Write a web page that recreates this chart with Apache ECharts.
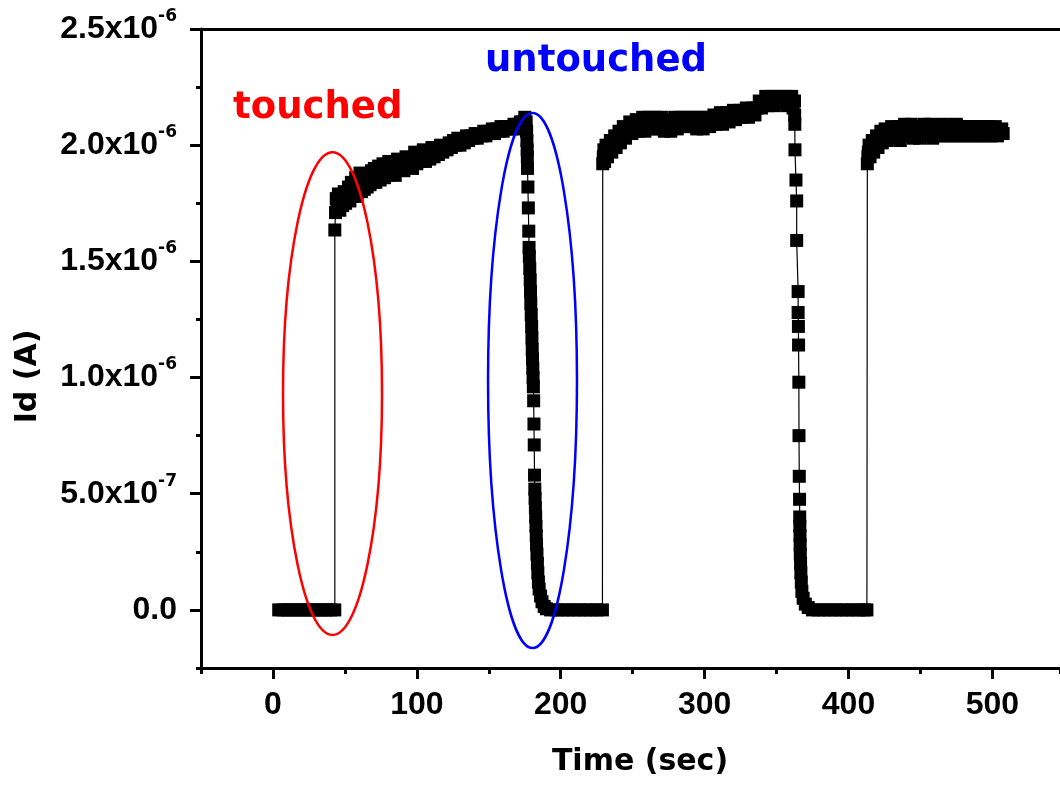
<!DOCTYPE html>
<html>
<head>
<meta charset="utf-8">
<title>Id vs Time</title>
<script src="https://cdn.jsdelivr.net/npm/echarts@6.0.0/dist/echarts.min.js"></script>
<style>
  html, body { margin: 0; padding: 0; background: #fff; overflow: hidden; }
  #main { width: 1060px; height: 785px; }
</style>
</head>
<body>
<div id="main"></div>
<script>
// current values are in units of 1e-6 A, time in sec
const baseline1 = [
  [4, 0], [7, 0], [10, 0], [13, 0], [16, 0], [19, 0], [22, 0], [25, 0],
  [28, 0], [31, 0], [34, 0], [37, 0], [40, 0], [43, 0]
]
const touchedRise = [
  [43, 1.635], [43.5, 1.71], [44, 1.77], [44.5, 1.73], [45, 1.76], [45.5, 1.79],
  [46.5, 1.72], [47.5, 1.77], [48.5, 1.74], [49.5, 1.80], [50.5, 1.75], [51.5, 1.78],
  [52.5, 1.82], [53.5, 1.76], [54.5, 1.84], [55.5, 1.78], [56.5, 1.81], [57.5, 1.86],
  [58.5, 1.78], [59.5, 1.83], [60.5, 1.88], [61.5, 1.80], [62.5, 1.85], [63.5, 1.81],
  [64.5, 1.87], [65.5, 1.82], [66.5, 1.86], [67.5, 1.83], [68.5, 1.89], [69.5, 1.84],
  [70.5, 1.90], [71.5, 1.84], [72.5, 1.88], [73.5, 1.91], [74.5, 1.85], [75.5, 1.89],
  [76.5, 1.92], [77.5, 1.86], [78.5, 1.90], [79.5, 1.87], [80.5, 1.93], [82, 1.88],
  [83.5, 1.91], [85, 1.87], [86.5, 1.94], [88, 1.90], [89.5, 1.92], [91, 1.89],
  [92.5, 1.95], [94, 1.91], [95.5, 1.94], [97, 1.90], [98.5, 1.97], [100, 1.92],
  [101.5, 1.95], [103, 1.93], [104.5, 1.98], [106, 1.93], [107.5, 1.96], [109, 1.94],
  [110.5, 1.99], [112, 1.95], [113.5, 1.97], [115, 1.96], [116.5, 2.00], [118, 1.97],
  [119.5, 1.99], [121, 1.98], [122.5, 2.01], [124, 1.99], [125.5, 2.02], [127, 2.00],
  [128.5, 2.03], [130, 2.00], [131.5, 2.02], [133, 2.01], [134.5, 2.04], [136, 2.02],
  [137.5, 2.04], [139, 2.03], [140.5, 2.05], [142, 2.03], [143.5, 2.05], [145, 2.04],
  [146.5, 2.06], [148, 2.04], [149.5, 2.06], [151, 2.05], [152.5, 2.07], [154, 2.05],
  [155.5, 2.07], [157, 2.06], [158.5, 2.08], [160, 2.06], [161.5, 2.08], [163, 2.07],
  [164.5, 2.08], [166, 2.07], [167.5, 2.09], [169, 2.07], [170.5, 2.09], [172, 2.10],
  [173.5, 2.10], [175, 2.12]
]
const untouchedDrop1 = [
  [176, 2.10], [176.3, 2.06], [176.5, 2.02], [176.7, 1.98], [176.8, 1.95],
  [176.9, 1.90], [177.2, 1.82], [177.5, 1.73], [177.8, 1.63], [178, 1.56],
  [178.2, 1.52], [178.5, 1.47], [178.8, 1.42], [179, 1.37], [179.2, 1.32],
  [179.5, 1.27], [179.8, 1.22], [180, 1.17], [180.2, 1.12], [180.4, 1.08],
  [180.6, 1.04], [180.8, 1.00], [181, 0.96], [181.2, 0.90], [181.4, 0.80],
  [181.6, 0.71], [181.8, 0.58], [182, 0.52], [182.2, 0.48], [182.4, 0.44],
  [182.6, 0.40], [182.8, 0.36], [183, 0.32], [183.2, 0.28], [183.5, 0.24],
  [183.8, 0.20], [184.1, 0.16], [184.5, 0.12], [185, 0.09], [186, 0.06],
  [187, 0.035], [188.5, 0.015], [190, 0.005], [193, 0], [197, 0], [201, 0],
  [205, 0], [209, 0], [213, 0], [217, 0], [221, 0], [225, 0], [229, 0]
]
const touchedRise2 = [
  [229.2, 1.92], [229.6, 1.95], [230, 1.98], [230.5, 1.93], [231, 1.96], [231.5, 2.00],
  [232.5, 1.95], [233.5, 1.99], [234.5, 2.02], [235.5, 1.97], [236.5, 2.01], [237.5, 2.04],
  [238.5, 1.99], [239.5, 2.03], [240.5, 2.06], [241.5, 2.01], [242.5, 2.05], [243.5, 2.08],
  [245, 2.03], [246.5, 2.07], [248, 2.10], [249.5, 2.05], [251, 2.08], [252.5, 2.11],
  [254, 2.06], [255.5, 2.09], [257, 2.12], [258.5, 2.06], [260, 2.10], [261.5, 2.12],
  [263, 2.07], [264.5, 2.10], [266, 2.12], [267.5, 2.07], [269, 2.10], [270.5, 2.12],
  [272, 2.06], [273.5, 2.09], [275, 2.11], [276.5, 2.06], [278, 2.10], [279.5, 2.12],
  [281, 2.07], [282.5, 2.09], [284, 2.12], [285.5, 2.08], [287, 2.10], [288.5, 2.12],
  [290, 2.08], [291.5, 2.10], [293, 2.12], [294.5, 2.07], [296, 2.10], [297.5, 2.12],
  [299, 2.07], [300.5, 2.10], [302, 2.12], [303.5, 2.08], [305, 2.11], [306.5, 2.13],
  [308, 2.09], [309.5, 2.11], [311, 2.14], [312.5, 2.09], [314, 2.12], [315.5, 2.14],
  [317, 2.10], [318.5, 2.13], [320, 2.15], [321.5, 2.11], [323, 2.13], [324.5, 2.15],
  [326, 2.12], [327.5, 2.14], [329, 2.16], [330.5, 2.12], [332, 2.15], [333.5, 2.16],
  [335, 2.13], [336.5, 2.16], [338, 2.19], [339.5, 2.16], [341, 2.18], [342.5, 2.21],
  [344, 2.17], [345.5, 2.19], [347, 2.21], [348.5, 2.17], [350, 2.20], [351.5, 2.21],
  [353, 2.18], [354.5, 2.20], [356, 2.21], [357.5, 2.17], [359, 2.20], [360.5, 2.21],
  [361.5, 2.16], [362.5, 2.19], [362.6, 2.13], [362.7, 2.09]
]
const untouchedDrop2 = [
  [362.8, 1.98], [363.5, 1.85], [364, 1.76], [364, 1.59], [365, 1.37],
  [365, 1.28], [365.2, 1.22], [365.3, 1.14], [365.5, 0.98], [365.6, 0.75],
  [365.8, 0.575], [366, 0.476], [366.1, 0.40], [366.2, 0.36], [366.3, 0.32],
  [366.4, 0.28], [366.5, 0.24], [366.7, 0.20], [366.9, 0.16], [367.2, 0.12],
  [367.6, 0.08], [368.5, 0.05], [370, 0.025], [372, 0.01], [375, 0], [379, 0],
  [383, 0], [387, 0], [391, 0], [395, 0], [399, 0], [403, 0], [407, 0],
  [411, 0], [412.8, 0]
]
const touchedRise3 = [
  [413.1, 1.92], [413.5, 1.95], [413.8, 1.97], [414.3, 2.00], [415, 1.95], [415.8, 1.98],
  [416.5, 2.02], [417.5, 1.97], [418.5, 2.00], [419.5, 2.04], [420.5, 1.99], [421.5, 2.02],
  [422.5, 2.06], [423.5, 2.01], [424.5, 2.04], [425.5, 2.07], [427, 2.02], [428.5, 2.05],
  [430, 2.08], [431.5, 2.03], [433, 2.06], [434.5, 2.08], [436, 2.02], [437.5, 2.05],
  [439, 2.09], [440.5, 2.04], [442, 2.07], [443.5, 2.09], [445, 2.03], [446.5, 2.06],
  [448, 2.08], [449.5, 2.03], [451, 2.06], [452.5, 2.09], [454, 2.04], [455.5, 2.07],
  [457, 2.09], [458.5, 2.03], [460, 2.06], [461.5, 2.08], [463, 2.04], [464.5, 2.07],
  [466, 2.09], [467.5, 2.04], [469, 2.06], [470.5, 2.08], [472, 2.04], [473.5, 2.07],
  [475, 2.09], [476.5, 2.04], [478, 2.06], [479.5, 2.08], [481, 2.04], [482.5, 2.07],
  [484, 2.08], [485.5, 2.04], [487, 2.06], [488.5, 2.08], [490, 2.04], [491.5, 2.07],
  [493, 2.08], [494.5, 2.04], [496, 2.06], [497.5, 2.08], [499, 2.04], [500.5, 2.07],
  [502, 2.08], [503.5, 2.04], [505, 2.06], [506.5, 2.07], [507.5, 2.05]
]

const xTicks = [0, 100, 200, 300, 400, 500]
const yTicks = [0, 0.5, 1.0, 1.5, 2.0, 2.5]
const yTickMantissa = ['0.0', '5.0x10', '1.0x10', '1.5x10', '2.0x10', '2.5x10']
const yTickExponent = ['', '-7', '-6', '-6', '-6', '-6']

// annotation ellipses in data units: centre time, centre current, half-width, half-height
const ellipses = [
  { t: 41.4, i: 0.931, rt: 34.4, ri: 1.039, color: '#ff0000' },
  { t: 180.4, i: 0.987, rt: 30.9, ri: 1.151, color: '#0000ff' }
]
const notes = [
  { text: 'touched', t: -27.7, i: 2.16, color: '#ff0000' },
  { text: 'untouched', t: 147.4, i: 2.362, color: '#0000ff' }
]

const seriesData = [].concat(baseline1, touchedRise, untouchedDrop1, touchedRise2, untouchedDrop2, touchedRise3)

const black = '#000'
const tickFont = { fontFamily: 'Liberation Sans', fontWeight: 'bold', fontSize: 32, color: black }
const titleFont = { fontFamily: 'DejaVu Sans', fontWeight: 'bold', fontSize: 30, color: black }

const chart = echarts.init(document.getElementById('main'), null, { renderer: 'canvas' })

const option = {
  animation: false,
  backgroundColor: '#fff',
  grid: { left: 201, right: 0, top: 29, bottom: 117, containLabel: false },
  xAxis: [
    {
      type: 'value',
      position: 'bottom',
      min: -50,
      max: 547,
      interval: 50,
      axisLine: { onZero: false, lineStyle: { color: black, width: 3 } },
      axisTick: { length: 6, lineStyle: { color: black, width: 3 } },
      axisLabel: { show: false },
      splitLine: { show: false },
      name: 'Time (sec)',
      nameLocation: 'middle',
      nameGap: 79,
      nameTextStyle: Object.assign({ padding: [0, 0, 0, 19] }, titleFont)
    },
    {
      type: 'value',
      position: 'bottom',
      min: -50,
      max: 547,
      axisLine: { show: false, onZero: false },
      axisTick: { customValues: xTicks, length: 11, lineStyle: { color: black, width: 3 } },
      axisLabel: Object.assign({ customValues: xTicks, margin: 21 }, tickFont),
      splitLine: { show: false }
    },
    {
      type: 'value',
      position: 'top',
      min: -50,
      max: 547,
      axisLine: { onZero: false, lineStyle: { color: black, width: 3 } },
      axisTick: { show: false },
      axisLabel: { show: false },
      splitLine: { show: false }
    }
  ],
  yAxis: [
    {
      type: 'value',
      position: 'left',
      min: -0.25,
      max: 2.5,
      interval: 0.25,
      axisLine: { onZero: false, lineStyle: { color: black, width: 3 } },
      axisTick: { length: 5, lineStyle: { color: black, width: 3 } },
      axisLabel: { show: false },
      splitLine: { show: false },
      name: 'Id (A)',
      nameLocation: 'middle',
      nameGap: 158,
      nameTextStyle: Object.assign({ padding: [0, 56, 0, 0] }, titleFont)
    },
    {
      type: 'value',
      position: 'left',
      min: -0.25,
      max: 2.5,
      axisLine: { show: false, onZero: false },
      axisTick: { customValues: yTicks, length: 11, lineStyle: { color: black, width: 3 } },
      axisLabel: {
        customValues: yTicks,
        margin: 24,
        formatter: function (val) {
          let k = 0
          for (let j = 0; j < yTicks.length; j++) {
            if (Math.abs(yTicks[j] - val) < 1e-9) k = j
          }
          if (!yTickExponent[k]) return '{m|' + yTickMantissa[k] + '}'
          return '{m|' + yTickMantissa[k] + '}{e|' + yTickExponent[k] + '}'
        },
        rich: {
          m: Object.assign({ lineHeight: 42 }, tickFont),
          e: { fontFamily: 'DejaVu Sans', fontWeight: 'bold', fontSize: 17, lineHeight: 17, verticalAlign: 'top', color: black }
        }
      },
      splitLine: { show: false }
    }
  ],
  series: [
    {
      type: 'line',
      xAxisIndex: 0,
      yAxisIndex: 0,
      data: seriesData,
      symbol: 'rect',
      symbolSize: 13,
      showAllSymbol: true,
      itemStyle: { color: black },
      lineStyle: { color: black, width: 1.2 },
      emphasis: { disabled: true }
    }
  ]
}

chart.setOption(option)

// place the annotations through the chart's own scales
const toPx = (t, i) => chart.convertToPixel({ gridIndex: 0 }, [t, i])
const graphics = []
for (let k = 0; k < ellipses.length; k++) {
  const e = ellipses[k]
  const c = toPx(e.t, e.i)
  const edge = toPx(e.t + e.rt, e.i + e.ri)
  graphics.push({
    type: 'ellipse',
    z: 100,
    shape: { cx: c[0], cy: c[1], rx: edge[0] - c[0], ry: c[1] - edge[1] },
    style: { fill: 'none', stroke: e.color, lineWidth: 2.5 }
  })
}
for (let k = 0; k < notes.length; k++) {
  const n = notes[k]
  const p = toPx(n.t, n.i)
  graphics.push({
    type: 'text',
    z: 100,
    x: p[0],
    y: p[1],
    style: {
      text: n.text,
      fill: n.color,
      font: 'bold 37px "DejaVu Sans"',
      textAlign: 'left',
      textVerticalAlign: 'middle'
    }
  })
}
chart.setOption({ graphic: graphics })
</script>
</body>
</html>
